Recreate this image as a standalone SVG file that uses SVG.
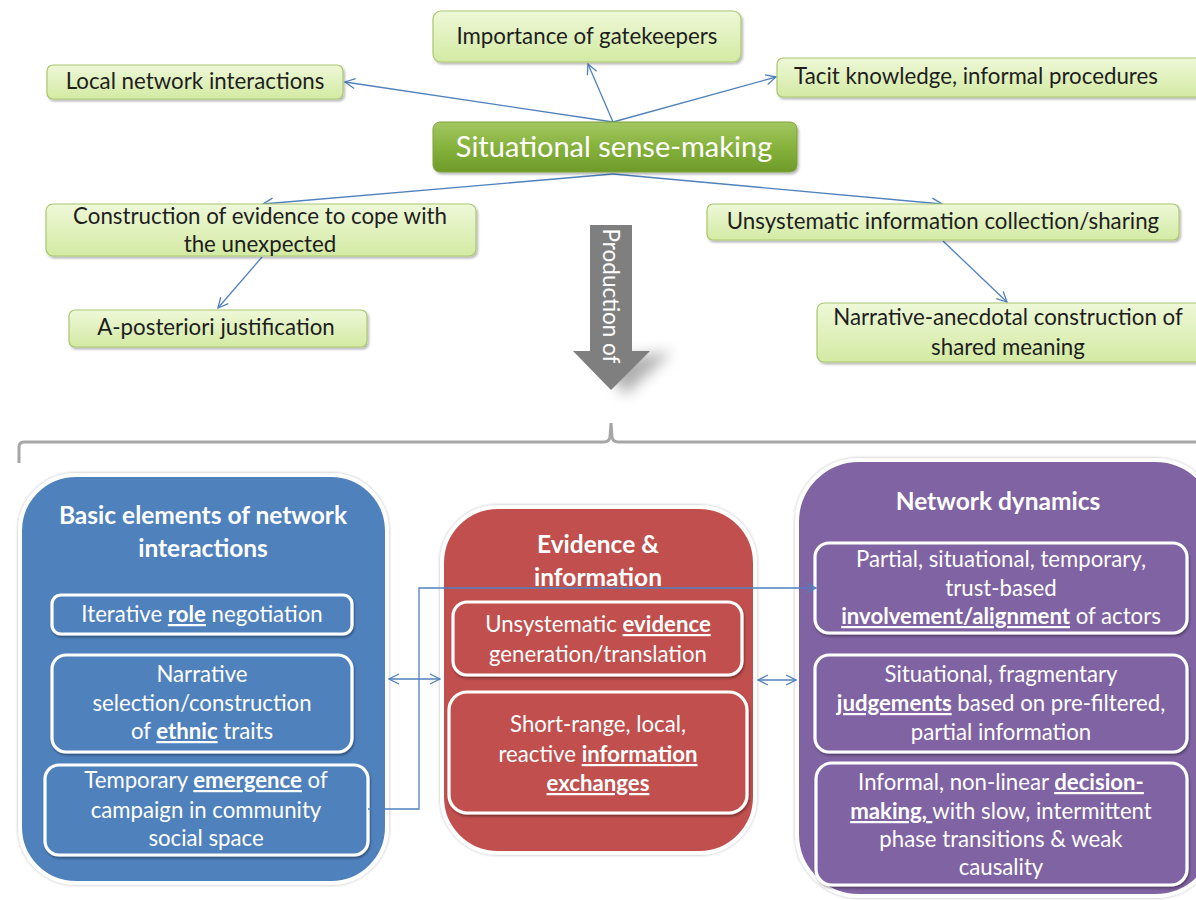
<svg xmlns="http://www.w3.org/2000/svg" width="1196" height="900" viewBox="0 0 1196 900">
  <defs>
    <linearGradient id="gLight" x1="0" y1="0" x2="0" y2="1">
      <stop offset="0" stop-color="#eef8d8"/>
      <stop offset="1" stop-color="#d3eaa3"/>
    </linearGradient>
    <linearGradient id="gDark" x1="0" y1="0" x2="0" y2="1">
      <stop offset="0" stop-color="#a3c763"/>
      <stop offset="0.5" stop-color="#86b23c"/>
      <stop offset="1" stop-color="#6e9a2a"/>
    </linearGradient>
    <filter id="shadow" x="-10%" y="-20%" width="120%" height="150%">
      <feDropShadow dx="1.5" dy="2" stdDeviation="1.2" flood-color="#000" flood-opacity="0.28"/>
    </filter>
    <filter id="glow" x="-10%" y="-10%" width="120%" height="120%">
      <feDropShadow dx="0" dy="0" stdDeviation="1.5" flood-color="#000" flood-opacity="0.3"/>
    </filter>
    <filter id="inner" x="-10%" y="-10%" width="120%" height="130%">
      <feDropShadow dx="1" dy="2" stdDeviation="1.2" flood-color="#000" flood-opacity="0.35"/>
    </filter>
    <filter id="blur8" x="-50%" y="-50%" width="200%" height="200%">
      <feGaussianBlur stdDeviation="7"/>
    </filter>
    <marker id="arr" viewBox="0 0 12 12" refX="11" refY="6" markerWidth="12" markerHeight="12" markerUnits="userSpaceOnUse" orient="auto-start-reverse">
      <path d="M1,1 L11,6 L1,11" fill="none" stroke="#4f81bd" stroke-width="1.3"/>
    </marker>
    <style>
      .leaf { fill: url(#gLight); stroke: #a9c86e; stroke-width: 1.2; filter: url(#shadow); }
      .leafText { font-family: "Lato", "Liberation Sans", sans-serif; font-size: 22.3px; fill: #1e1e1e; text-anchor: middle; }
      .link { fill: none; stroke: #4f81bd; stroke-width: 1.3; }
      .panel { stroke: #ffffff; stroke-width: 4; filter: url(#glow); }
      .box { stroke: #ffffff; stroke-width: 3.2; filter: url(#inner); }
      .title { font-family: "Lato", "Liberation Sans", sans-serif; font-size: 24.5px; font-weight: bold; fill: #ffffff; text-anchor: middle; }
      .body { font-family: "Lato", "Liberation Sans", sans-serif; font-size: 22.2px; fill: #ffffff; text-anchor: middle; }
      .em { font-weight: bold; text-decoration: underline; }
    </style>
  </defs>

  <rect width="1196" height="900" fill="#ffffff"/>

  <!-- upper map connectors -->
  <g id="connectors">
    <line class="link" x1="613" y1="122" x2="345" y2="82" marker-end="url(#arr)"/>
    <line class="link" x1="613" y1="122" x2="588" y2="64" marker-end="url(#arr)"/>
    <line class="link" x1="613" y1="122" x2="776" y2="77" marker-end="url(#arr)"/>
    <line class="link" x1="613" y1="174" x2="263" y2="204" marker-end="url(#arr)"/>
    <line class="link" x1="613" y1="174" x2="942" y2="204" marker-end="url(#arr)"/>
    <line class="link" x1="262" y1="257" x2="218" y2="308" marker-end="url(#arr)"/>
    <line class="link" x1="943" y1="241" x2="1007" y2="302" marker-end="url(#arr)"/>
  </g>

  <!-- leaf nodes -->
  <g id="gatekeepers">
    <rect class="leaf" x="433" y="11" width="308" height="51" rx="8"/>
    <text class="leafText" x="587" y="44">Importance of gatekeepers</text>
  </g>
  <g id="local-network">
    <rect class="leaf" x="47" y="65" width="296" height="34" rx="6"/>
    <text class="leafText" x="195" y="89">Local network interactions</text>
  </g>
  <g id="tacit-knowledge">
    <rect class="leaf" x="777" y="58" width="428" height="39" rx="6"/>
    <text class="leafText" x="976" y="84">Tacit knowledge, informal procedures</text>
  </g>
  <g id="sense-making">
    <rect x="433" y="122" width="364" height="50" rx="7" fill="url(#gDark)" stroke="#7ea13d" stroke-width="1" filter="url(#shadow)"/>
    <text x="614" y="157" font-family="Lato, 'Liberation Sans', sans-serif" font-size="29" fill="#ffffff" text-anchor="middle">Situational sense-making</text>
  </g>
  <g id="construction-evidence">
    <rect class="leaf" x="46" y="204" width="430" height="52" rx="7"/>
    <text class="leafText" x="260" y="224">Construction of evidence to cope with</text>
    <text class="leafText" x="260" y="252">the unexpected</text>
  </g>
  <g id="a-posteriori">
    <rect class="leaf" x="69" y="310" width="298" height="37" rx="6"/>
    <text class="leafText" x="216" y="335">A-posteriori justification</text>
  </g>
  <g id="info-collection">
    <rect class="leaf" x="707" y="204" width="472" height="36" rx="6"/>
    <text class="leafText" x="943" y="229">Unsystematic information collection/sharing</text>
  </g>
  <g id="narrative-meaning">
    <rect class="leaf" x="817" y="303" width="390" height="59" rx="7"/>
    <text class="leafText" x="1008" y="325">Narrative-anecdotal construction of</text>
    <text class="leafText" x="1008" y="355">shared meaning</text>
  </g>

  <!-- block arrow -->
  <g id="production-arrow">
    <path d="M600,360 L672,352 L625,395 Z" fill="#6f6f6f" opacity="0.55" filter="url(#blur8)"/>
    <path d="M590,225 L632,225 L632,351 L650,351 L611,390 L573,351 L590,351 Z" fill="#7f7f7f"/>
    <text transform="translate(611,296) rotate(90)" font-family="Lato, 'Liberation Sans', sans-serif" font-size="22.5" fill="#ffffff" text-anchor="middle" dominant-baseline="central">Production of</text>
  </g>

  <!-- brace -->
  <g id="brace">
    <path d="M19,463 L19,447 Q19,442 24,442 L604,442 Q609,442 610,437 L611,423 L612,437 Q613,442 618,442 L1200,442" fill="none" stroke="#a6a6a6" stroke-width="3"/>
  </g>

  <!-- blue panel -->
  <g id="basic-elements">
    <rect class="panel" x="20" y="475" width="367" height="408" rx="56" fill="#4f81bd"/>
    <text class="title" x="203" y="524">Basic elements of network</text>
    <text class="title" x="203" y="557">interactions</text>
  </g>
  <g id="role-negotiation">
    <rect class="box" x="52" y="595" width="300" height="39" rx="9" fill="#4f81bd"/>
    <text class="body" x="202" y="622">Iterative <tspan class="em">role</tspan> negotiation</text>
  </g>
  <g id="ethnic-traits">
    <rect class="box" x="52" y="655" width="300" height="97" rx="14" fill="#4f81bd"/>
    <text class="body" x="202" y="682">Narrative</text>
    <text class="body" x="202" y="711">selection/construction</text>
    <text class="body" x="202" y="739">of <tspan class="em">ethnic</tspan> traits</text>
  </g>
  <g id="campaign-emergence">
    <rect class="box" x="45" y="765" width="323" height="90" rx="14" fill="#4f81bd"/>
    <text class="body" x="206" y="788">Temporary <tspan class="em">emergence</tspan> of</text>
    <text class="body" x="206" y="818">campaign in community</text>
    <text class="body" x="206" y="846">social space</text>
  </g>

  <!-- red panel -->
  <g id="evidence-information">
    <rect class="panel" x="442" y="507" width="313" height="346" rx="56" fill="#c0504d"/>
    <text class="title" x="598" y="553">Evidence &amp;</text>
    <text class="title" x="598" y="586">information</text>
  </g>
  <g id="evidence-generation">
    <rect class="box" x="453" y="602" width="289" height="73" rx="14" fill="#c0504d"/>
    <text class="body" x="598" y="632">Unsystematic <tspan class="em">evidence</tspan></text>
    <text class="body" x="598" y="662">generation/translation</text>
  </g>
  <g id="information-exchanges">
    <rect class="box" x="449" y="692" width="298" height="121" rx="18" fill="#c0504d"/>
    <text class="body" x="598" y="732">Short-range, local,</text>
    <text class="body" x="598" y="762">reactive <tspan class="em">information</tspan></text>
    <text class="body" x="598" y="791"><tspan class="em">exchanges</tspan></text>
  </g>

  <!-- purple panel -->
  <g id="network-dynamics">
    <rect class="panel" x="797" y="460" width="420" height="436" rx="62" fill="#8064a2"/>
    <text class="title" x="998" y="510">Network dynamics</text>
  </g>
  <g id="actor-alignment">
    <rect class="box" x="815" y="543" width="372" height="90" rx="14" fill="#8064a2"/>
    <text class="body" x="1001" y="567">Partial, situational, temporary,</text>
    <text class="body" x="1001" y="596">trust-based</text>
    <text class="body" x="1001" y="624"><tspan class="em">involvement/alignment</tspan> of actors</text>
  </g>
  <g id="judgements">
    <rect class="box" x="815" y="655" width="372" height="97" rx="14" fill="#8064a2"/>
    <text class="body" x="1001" y="682">Situational, fragmentary</text>
    <text class="body" x="1001" y="711"><tspan class="em">judgements</tspan> based on pre-filtered,</text>
    <text class="body" x="1001" y="740">partial information</text>
  </g>
  <g id="decision-making">
    <rect class="box" x="816" y="763" width="371" height="122" rx="16" fill="#8064a2"/>
    <text class="body" x="1001" y="790">Informal, non-linear <tspan class="em">decision-</tspan></text>
    <text class="body" x="1001" y="819"><tspan class="em">making, </tspan>with slow, intermittent</text>
    <text class="body" x="1001" y="847">phase transitions &amp; weak</text>
    <text class="body" x="1001" y="875">causality</text>
  </g>

  <!-- lower connectors -->
  <g id="panel-connectors">
    <line class="link" x1="389" y1="679" x2="440" y2="679" marker-start="url(#arr)" marker-end="url(#arr)"/>
    <line class="link" x1="758" y1="680" x2="796" y2="680" marker-start="url(#arr)" marker-end="url(#arr)"/>
    <polyline class="link" points="368,809 419,809 419,588 816,588" marker-end="url(#arr)"/>
  </g>
</svg>
